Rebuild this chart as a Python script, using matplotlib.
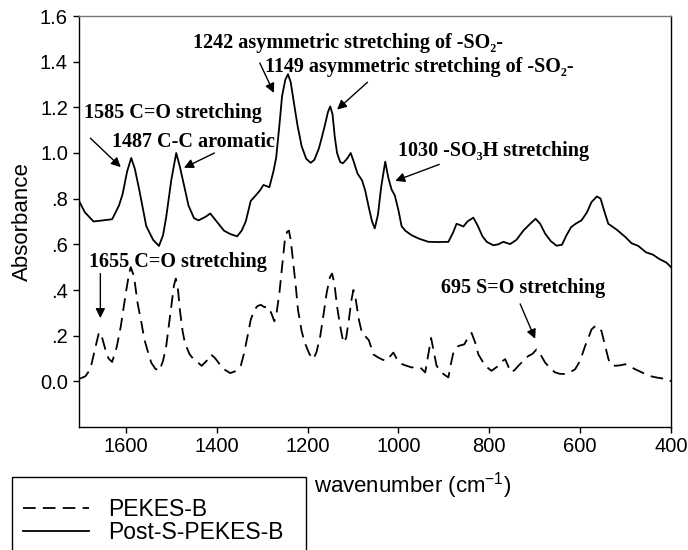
import matplotlib
matplotlib.use("Agg")
import matplotlib.pyplot as plt
from matplotlib.patches import Rectangle

plt.rcParams['font.family'] = ['Liberation Sans', 'DejaVu Sans']
plt.rcParams['mathtext.fontset'] = 'custom'
plt.rcParams['mathtext.rm'] = 'Liberation Sans'
plt.rcParams['mathtext.it'] = 'Liberation Sans:italic'

# Post-S-PEKES-B (solid)
post_x = [1703, 1690, 1671, 1650, 1630, 1615, 1607, 1597, 1588, 1580, 1570, 1555, 1540, 1527, 1518,
          1511, 1500, 1489, 1481, 1474, 1462, 1450, 1440, 1425, 1414, 1400, 1384, 1370, 1355, 1345,
          1336, 1325, 1316, 1305, 1297, 1290, 1284, 1275, 1269, 1262, 1256, 1249, 1243, 1237, 1230,
          1222, 1213, 1203, 1193, 1185, 1175, 1169, 1162, 1155, 1150, 1145, 1140, 1135, 1128, 1122,
          1113, 1105, 1098, 1090, 1080, 1073, 1065, 1058, 1052, 1045, 1038, 1029, 1022, 1015, 1008,
          1000, 993, 985, 971, 955, 934, 910, 890, 880, 872, 865, 857, 848, 835, 825,
          815, 805, 791, 780, 769, 760, 754, 740, 725, 710, 698, 688, 677, 665, 652,
          640, 630, 620, 610, 597, 585, 575, 563, 555, 546, 538, 520, 501, 487, 472,
          455, 440, 425, 410, 400]
post_y = [0.79, 0.74, 0.70, 0.705, 0.71, 0.77, 0.82, 0.92, 0.978, 0.93, 0.835, 0.68, 0.62, 0.593, 0.64,
          0.72, 0.88, 1.0, 0.94, 0.878, 0.77, 0.715, 0.705, 0.72, 0.735, 0.70, 0.66, 0.645, 0.635, 0.66,
          0.70, 0.79, 0.81, 0.835, 0.86, 0.855, 0.85, 0.92, 0.98, 1.12, 1.25, 1.32, 1.345, 1.31, 1.22,
          1.12, 1.03, 0.975, 0.957, 0.97, 1.02, 1.065, 1.12, 1.18, 1.204, 1.17, 1.07, 1.0, 0.96, 0.955,
          0.975, 1.0, 0.96, 0.91, 0.88, 0.835, 0.76, 0.70, 0.67, 0.73, 0.85, 0.962, 0.89, 0.84, 0.815,
          0.75, 0.68, 0.66, 0.64, 0.625, 0.611, 0.61, 0.611, 0.65, 0.69, 0.685, 0.678, 0.70, 0.717, 0.68,
          0.635, 0.61, 0.596, 0.60, 0.611, 0.605, 0.601, 0.62, 0.66, 0.69, 0.712, 0.69, 0.647, 0.615, 0.594,
          0.598, 0.64, 0.675, 0.69, 0.705, 0.74, 0.785, 0.81, 0.80, 0.74, 0.69, 0.665, 0.633, 0.605, 0.593,
          0.565, 0.555, 0.535, 0.52, 0.50]

# PEKES-B (dashed)
pekes_x = [1703, 1689, 1678, 1668, 1659, 1652, 1645, 1638, 1630, 1620, 1611, 1600, 1593, 1589, 1582,
           1574, 1565, 1559, 1550, 1544, 1535, 1526, 1518, 1511, 1500, 1494, 1490, 1485, 1481, 1475,
           1470, 1460, 1451, 1440, 1433, 1422, 1413, 1405, 1399, 1390, 1384, 1370, 1358, 1347, 1340,
           1332, 1325, 1317, 1310, 1303, 1295, 1288, 1280, 1273, 1268, 1262, 1256, 1250, 1245, 1241,
           1237, 1232, 1226, 1221, 1213, 1206, 1196, 1187, 1180, 1172, 1165, 1158, 1151, 1146, 1141,
           1135, 1128, 1121, 1115, 1109, 1103, 1099, 1094, 1087, 1080, 1073, 1065, 1055, 1045, 1035,
           1027, 1018, 1011, 1004, 996, 985, 971, 952, 941, 934, 928, 922, 916, 901, 890,
           884, 879, 868, 855, 847, 839, 831, 824, 809, 795, 780, 770, 765, 757, 751,
           744, 736, 725, 714, 705, 696, 688, 677, 665, 655, 645, 633, 622, 611, 600,
           589, 580, 575, 568, 560, 553, 545, 538, 534, 523, 512, 501, 490, 479, 465,
           450, 435, 421, 410, 400]
pekes_y = [0.01, 0.022, 0.053, 0.14, 0.215, 0.19, 0.14, 0.10, 0.085, 0.15, 0.241, 0.386, 0.47, 0.50, 0.46,
           0.342, 0.25, 0.183, 0.12, 0.082, 0.055, 0.046, 0.09, 0.155, 0.328, 0.42, 0.45, 0.40, 0.313, 0.22,
           0.169, 0.12, 0.097, 0.08, 0.068, 0.09, 0.118, 0.105, 0.09, 0.065, 0.053, 0.036, 0.045, 0.068, 0.12,
           0.198, 0.27, 0.313, 0.33, 0.335, 0.325, 0.328, 0.30, 0.263, 0.30, 0.386, 0.50, 0.617, 0.655, 0.66,
           0.62, 0.53, 0.42, 0.313, 0.22, 0.169, 0.12, 0.097, 0.13, 0.198, 0.29, 0.386, 0.455, 0.472, 0.43,
           0.328, 0.24, 0.169, 0.19, 0.27, 0.36, 0.40, 0.36, 0.27, 0.21, 0.198, 0.18, 0.118, 0.105, 0.095,
           0.09, 0.11, 0.126, 0.10, 0.079, 0.07, 0.061, 0.061, 0.039, 0.12, 0.19, 0.13, 0.068, 0.032, 0.017,
           0.08, 0.126, 0.155, 0.162, 0.19, 0.212, 0.17, 0.118, 0.068, 0.046, 0.068, 0.09, 0.097, 0.06, 0.039,
           0.05, 0.068, 0.09, 0.111, 0.12, 0.14, 0.12, 0.082, 0.055, 0.039, 0.033, 0.032, 0.04, 0.053, 0.09,
           0.155, 0.20, 0.227, 0.24, 0.241, 0.22, 0.155, 0.10, 0.075, 0.068, 0.07, 0.075, 0.065, 0.053, 0.04,
           0.025, 0.018, 0.013, 0.012, 0.0]

series_labels = ["PEKES-B", "Post-S-PEKES-B"]
x_ticks = [1600, 1400, 1200, 1000, 800, 600, 400]
y_ticks = [0.0, 0.2, 0.4, 0.6, 0.8, 1.0, 1.2, 1.4, 1.6]
y_tick_labels = ["0.0", ".2", ".4", ".6", ".8", "1.0", "1.2", "1.4", "1.6"]

# annotations: text, text anchor (x, y), arrow tail, arrow head
ann_texts = ["1242 asymmetric stretching of -SO\u2082-",
             "1149 asymmetric stretching of -SO\u2082-",
             "1585 C=O stretching",
             "1487 C-C aromatic",
             "1030 -SO\u2083H stretching",
             "1655 C=O stretching",
             "695 S=O stretching"]
ann_text_xy = [(1452, 1.483), (1294, 1.378), (1693, 1.176), (1630, 1.046), (1000, 1.007), (1682, 0.523), (906, 0.407)]
ann_tail = [(1305, 1.394), (1068, 1.31), (1678, 1.065), (1405, 1.0), (910, 0.95), (1656, 0.472), (732, 0.339)]
ann_head = [(1274, 1.263), (1135, 1.19), (1611, 0.938), (1472, 0.935), (1007, 0.878), (1656, 0.277), (699, 0.186)]

W, H = 688, 550
fig = plt.figure(figsize=(W / 100, H / 100), dpi=100)
ax = fig.add_axes([79 / W, 1 - 427 / H, (671 - 79) / W, (427 - 16) / H])

l1, = ax.plot(pekes_x, pekes_y, color='black', lw=1.3, linestyle=(0, (7, 4)))
l2, = ax.plot(post_x, post_y, color='black', lw=1.3)

ax.set_xlim(1703, 400)
ax.set_ylim(-0.2, 1.6)
ax.set_xticks(x_ticks)
ax.set_yticks(y_ticks)
ax.set_yticklabels(y_tick_labels)
ax.tick_params(direction='out', length=4.5, width=1, labelsize=14.5)
ax.tick_params(axis='y', pad=3.5)
ax.tick_params(axis='x', pad=3)
for s in ['left', 'bottom', 'right']:
    ax.spines[s].set_linewidth(1.0)
ax.spines['top'].set_color('#777777')
ax.spines['top'].set_linewidth(1.0)

fig.text(22 / W, 1 - 222 / H, "Absorbance", fontsize=16, rotation=90, ha='center', va='center')
fig.text(314 / W, 1 - 486 / H, "wavenumber (cm$^{-1}$)", fontsize=16, ha='left', va='center')

serif = ['Liberation Serif', 'DejaVu Serif']
for t, txy, tail, head in zip(ann_texts, ann_text_xy, ann_tail, ann_head):
    ax.text(txy[0], txy[1], t, family=serif, fontweight='bold', fontsize=14.5, ha='left', va='center')
    ax.annotate("", xy=head, xytext=tail,
                arrowprops=dict(arrowstyle='-|>', color='black', lw=1.0, mutation_scale=14,
                                shrinkA=0, shrinkB=0))

# legend box (extends beyond the bottom edge, as in the reference)
fig.patches.append(Rectangle((12 / W, -0.05), (306 - 12) / W, (1 - 477 / H) + 0.05,
                             transform=fig.transFigure, fill=False, edgecolor='black', lw=1.0))
leg = fig.legend([l1, l2], series_labels, loc='upper left', bbox_to_anchor=(23 / W, 1 - 498 / H),
                 frameon=False, fontsize=16.5, handlelength=2.9, borderpad=0.0,
                 labelspacing=0.0, handletextpad=0.8, borderaxespad=0)

fig.savefig("out.png", dpi=100)
